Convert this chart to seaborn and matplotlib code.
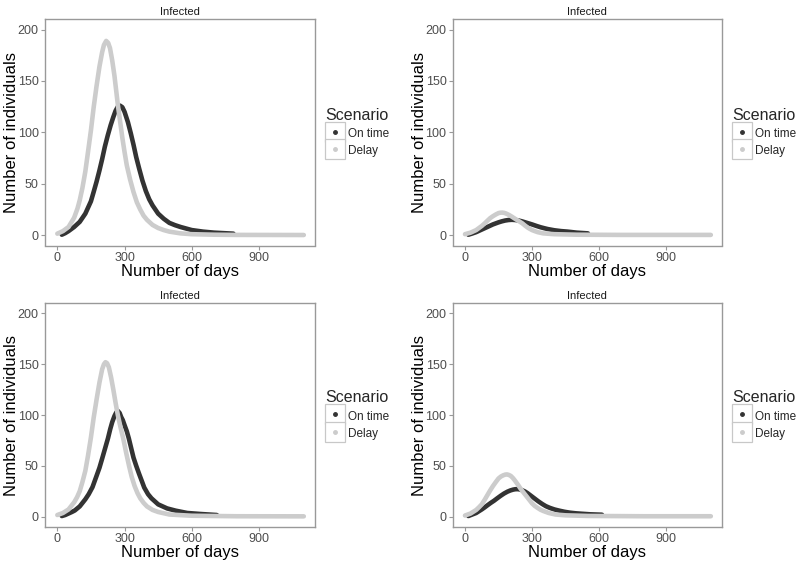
import matplotlib
matplotlib.use("Agg")
import pandas as pd
import matplotlib.pyplot as plt
import seaborn as sns
from matplotlib.lines import Line2D
from matplotlib.legend_handler import HandlerTuple

# Values (day, infected individuals)
# Panel 1 (top left)
p1_ontime_days = [20, 35, 50, 75, 100, 125, 150, 162, 175, 188, 200, 212, 225, 238, 250, 260, 270, 280, 290, 300,
                  315, 328, 340, 352, 365, 380, 395, 410, 425, 450, 475, 500, 525, 550, 600, 650, 700, 786]
p1_ontime_vals = [0.5, 2, 4, 8, 13, 21, 33, 42, 52, 63, 74, 86, 97, 107, 115, 121, 125, 126, 124.5, 120,
                  110, 99, 88, 76, 65, 53, 43, 35, 29, 21, 16, 12, 9.8, 8, 5, 3.5, 2.5, 1.5]
p1_delay_days = [0, 25, 50, 75, 90, 100, 112, 125, 137, 150, 162, 175, 188, 200, 208, 218, 227, 235, 245, 255,
                 262, 270, 280, 290, 300, 310, 325, 340, 355, 370, 385, 400, 425, 450, 475, 500, 550, 600, 700, 800, 1100]
p1_delay_vals = [1.5, 4, 8, 17, 26, 34, 46, 62, 81, 102, 124, 145, 164, 178, 185, 189, 187, 182, 170, 155,
                 142, 127, 111, 95, 81, 68, 54, 42, 32, 25, 19, 15, 10, 7, 5, 3.5, 1.8, 1, 0.5, 0.3, 0.2]

# Panel 2 (top right)
p2_ontime_days = [15, 30, 50, 75, 100, 125, 150, 165, 180, 195, 210, 225, 240, 255, 270, 285, 300, 320, 339,
                  355, 370, 385, 400, 430, 459, 500, 550]
p2_ontime_vals = [0.5, 1.5, 3, 5.5, 8, 10.5, 12.5, 13.5, 14.3, 14.8, 15, 14.8, 14.3, 13.5, 12.5, 11.5, 10.5, 9, 7.7,
                  6.8, 6, 5.4, 4.8, 4, 3.5, 2.5, 1.8]
p2_delay_days = [0, 25, 50, 75, 88, 100, 112, 125, 138, 150, 158, 167, 176, 185, 197, 210, 222, 235, 246, 257,
                 268, 280, 290, 300, 312, 325, 350, 400, 500, 700, 1100]
p2_delay_vals = [1, 2.5, 5, 9, 11.5, 14, 16.5, 18.5, 20.2, 21.5, 21.9, 22, 21.7, 21, 19.7, 18, 16.3, 14.5, 13, 11.5,
                 9.5, 7.5, 6.2, 5, 4, 3, 1.8, 1, 0.5, 0.3, 0.3]

# Panel 3 (bottom left)
p3_ontime_days = [20, 35, 50, 65, 78, 100, 125, 140, 157, 175, 188, 200, 213, 226, 236, 245, 255, 263, 270, 278,
                  285, 292, 300, 310, 319, 330, 340, 352, 365, 377, 388, 405, 420, 435, 450, 470, 490, 528, 580, 640, 712]
p3_ontime_vals = [0.5, 1.5, 3, 4.5, 6, 10, 17, 22, 29, 40, 48, 57, 67, 77, 86, 93, 99, 102.5, 104, 102,
                  98, 95, 90, 84, 77, 67, 58, 50, 42, 35, 28.5, 22, 18, 15, 12, 10, 8, 5.8, 3.5, 2.5, 1.5]
p3_delay_days = [0, 25, 50, 75, 88, 100, 112, 125, 137, 150, 162, 175, 188, 200, 208, 215, 222, 230, 240, 250,
                 260, 270, 282, 295, 308, 320, 332, 345, 358, 370, 385, 400, 425, 450, 500, 600, 800, 1100]
p3_delay_vals = [1.5, 3.5, 7, 14, 19, 25, 34, 45, 60, 78, 97, 115, 132, 145, 150, 152, 151, 147, 137, 125,
                 112, 100, 88, 76, 62, 50, 39, 30, 23, 18, 13.5, 10, 6.5, 4.5, 2, 0.8, 0.3, 0.2]

# Panel 4 (bottom right)
p4_ontime_days = [15, 30, 50, 62, 75, 88, 100, 115, 130, 145, 160, 175, 190, 203, 215, 225, 235, 245, 255, 268,
                  280, 295, 310, 328, 346, 362, 380, 400, 420, 445, 470, 495, 520, 560, 613]
p4_ontime_vals = [0.5, 1.8, 3.5, 5.2, 7, 9, 11, 13.4, 15.6, 18.1, 20.5, 22.7, 24.5, 25.7, 26.5, 26.9, 27, 26.7, 26, 24.7,
                  23, 20.5, 18, 15, 12.3, 10.2, 8.5, 7, 5.9, 4.7, 3.8, 3.2, 2.8, 2.2, 1.8]
p4_delay_days = [0, 25, 50, 62, 75, 88, 100, 112, 125, 138, 150, 160, 170, 180, 188, 196, 205, 215, 225, 238,
                 250, 265, 279, 290, 300, 312, 325, 337, 350, 375, 405, 450, 550, 800, 1100]
p4_delay_vals = [1, 3, 6.5, 9, 12, 16.5, 21, 25.5, 30, 34, 37.5, 39.3, 40.5, 41.3, 41.5, 41, 40, 37.8, 35, 31,
                 27, 22.8, 18.9, 15.8, 13, 10.5, 8.5, 6.8, 5.5, 3.5, 2, 1.2, 0.6, 0.3, 0.3]

scenarios = ["On time", "Delay"]
x_ticks = [0, 300, 600, 900]
y_ticks = [0, 50, 100, 150, 200]

panels = [
    (p1_ontime_days, p1_ontime_vals, p1_delay_days, p1_delay_vals),
    (p2_ontime_days, p2_ontime_vals, p2_delay_days, p2_delay_vals),
    (p3_ontime_days, p3_ontime_vals, p3_delay_days, p3_delay_vals),
    (p4_ontime_days, p4_ontime_vals, p4_delay_days, p4_delay_vals),
]

palette = {"On time": "#333333", "Delay": "#cccccc"}
border = "#999999"

sns.set_theme(style="white")
plt.rcParams['font.family'] = ['Liberation Sans', 'DejaVu Sans']

W, H = 800, 570
fig = plt.figure(figsize=(8, 5.7), dpi=100)


def box(x0, y0, x1, y1):
    return [x0 / W, 1 - y1 / H, (x1 - x0) / W, (y1 - y0) / H]


# pixel boxes of the four plot areas
boxes = [
    box(45, 19.3, 315, 245.5),
    box(452.7, 19.3, 722, 245.5),
    box(45, 303.3, 315, 526.7),
    box(452.7, 303.3, 722, 526.7),
]

for (od, ov, dd, dv), b in zip(panels, boxes):
    ax = fig.add_axes(b)
    df = pd.concat([
        pd.DataFrame({"day": od, "value": ov, "Scenario": "On time"}),
        pd.DataFrame({"day": dd, "value": dv, "Scenario": "Delay"}),
    ])
    sns.lineplot(data=df, x="day", y="value", hue="Scenario", hue_order=scenarios,
                 palette=palette, linewidth=3.3, estimator=None, legend=False, ax=ax,
                 solid_joinstyle="round", solid_capstyle="round")
    ax.set_xlim(-55, 1150)
    ax.set_ylim(-10, 210)
    ax.set_xticks(x_ticks)
    ax.set_yticks(y_ticks)
    for s in ax.spines.values():
        s.set_color(border)
        s.set_linewidth(1)
    ax.tick_params(bottom=True, left=True, direction="out", length=3, width=0.8,
                   color=border, labelsize=9, labelcolor="#4d4d4d", pad=1.5)
    ax.set_xlabel("Number of days", fontsize=12, labelpad=0, color="black")
    ax.set_ylabel("Number of individuals", fontsize=12, labelpad=-1, color="black")
    ax.set_title("Infected", fontsize=8, pad=3, color="#1a1a1a")

    handles = []
    for sc in scenarios:
        key = Line2D([], [], linestyle="none", marker="s", markersize=13.7,
                     markerfacecolor="white", markeredgecolor="#c8c8c8", markeredgewidth=0.9)
        dot = Line2D([], [], linestyle="none", marker="o", markersize=2.5,
                     markerfacecolor=palette[sc], markeredgecolor=palette[sc])
        handles.append((key, dot))
    leg = ax.legend(handles, scenarios, title="Scenario", loc="center left",
                    bbox_to_anchor=(1.038, 0.5), frameon=False, fontsize=8.5,
                    title_fontsize=11.5, borderpad=0, borderaxespad=0,
                    handlelength=1.65, handleheight=1.26, labelspacing=0.35,
                    handletextpad=0.25, alignment="left",
                    handler_map={tuple: HandlerTuple(ndivide=1)})

fig.savefig("out.png", dpi=100)
